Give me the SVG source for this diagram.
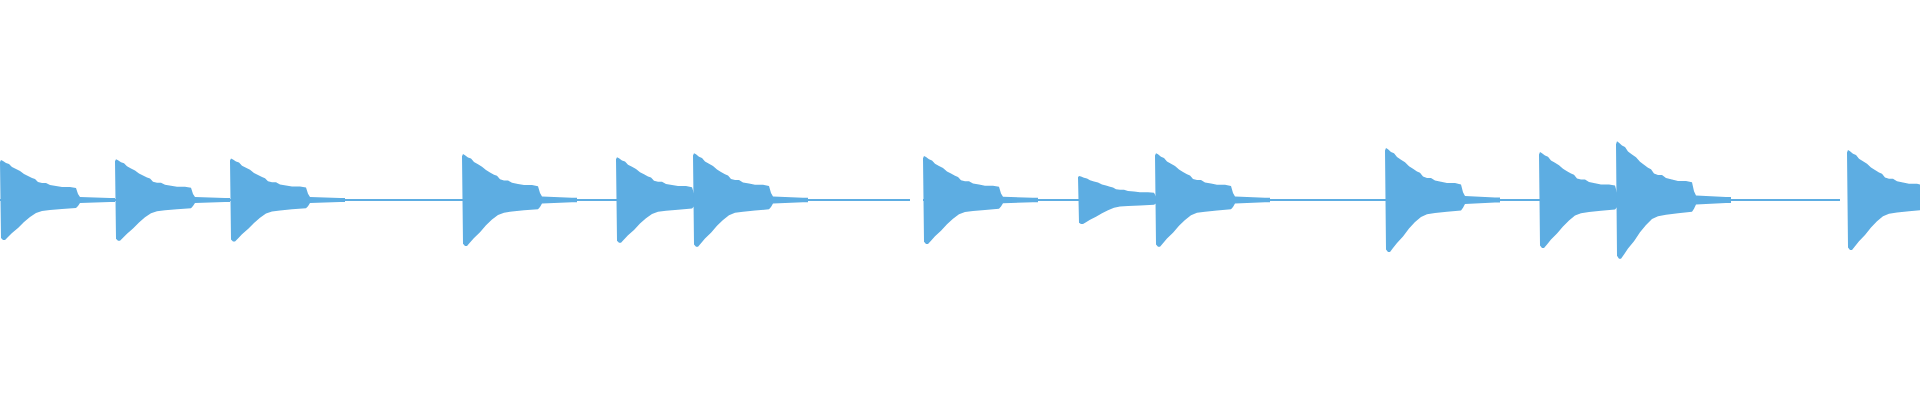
<svg xmlns="http://www.w3.org/2000/svg" width="1920" height="400" viewBox="0 0 1920 400">
<style>.w{fill:#5dade2}.t{stroke:#5dade2;stroke-width:2}</style>
<defs>
<path id="hit" d="M0,-38 L1,-40 L3,-39 L6,-37 L9,-36 L12,-33 L16,-31 L20,-29 L24,-26 L28,-24 L32,-22 L35,-21 L38,-18 L42,-17 L46,-17 L50,-15 L56,-14 L62,-13 L70,-13 L76,-12 L78,-6 L80,-3 L110,-2 L115,-2 L115,2 L110,2 L80,3 L78,6 L76,8 L62,9 L50,10 L42,11 L36,13 L30,17 L24,22 L18,28 L12,33 L8,37 L5,40 L3,40 L1,38 Z"/>
</defs>
<g id="tails">
<line class="t" x1="0" y1="200" x2="910" y2="200"/>
<line class="t" x1="923" y1="200" x2="1840" y2="200"/>
</g>
<g id="waveform" class="w">
<use href="#hit" transform="translate(0,200) scale(1,1)"/>
<use href="#hit" transform="translate(115,200) scale(1,1.02)"/>
<use href="#hit" transform="translate(230,200) scale(1,1.04)"/>
<use href="#hit" transform="translate(462,200) scale(1,1.15)"/>
<use href="#hit" transform="translate(616,200) scale(1,1.07)"/>
<use href="#hit" transform="translate(693,200) scale(1,1.17)"/>
<use href="#hit" transform="translate(923,200) scale(1,1.1)"/>
<use href="#hit" transform="translate(1078,200) scale(1,0.6)"/>
<use href="#hit" transform="translate(1155,200) scale(1,1.17)"/>
<use href="#hit" transform="translate(1385,200) scale(1,1.3)"/>
<use href="#hit" transform="translate(1539,200) scale(1,1.2)"/>
<use href="#hit" transform="translate(1616,200) scale(1,1.47)"/>
<use href="#hit" transform="translate(1847,200) scale(1,1.25)"/>
</g>
</svg>
